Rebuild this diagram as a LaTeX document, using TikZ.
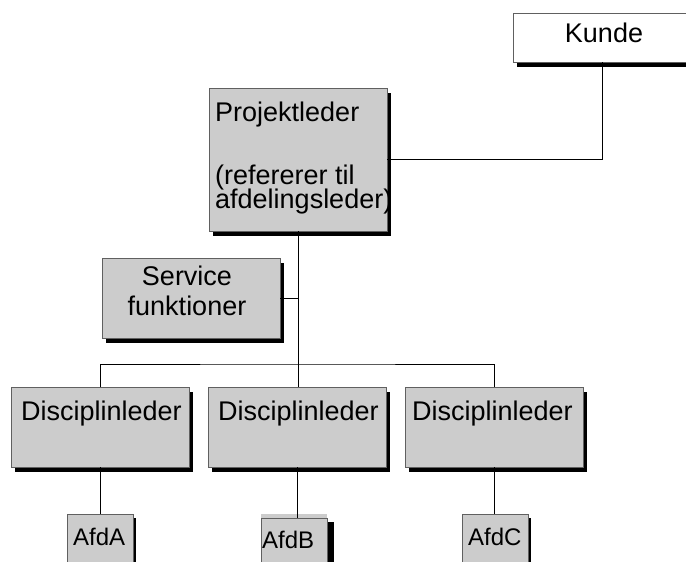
\documentclass[tikz,border=0pt]{standalone}
\usepackage{fontspec}
\setmainfont{Liberation Sans}
\usetikzlibrary{shadows}
\definecolor{boxfill}{HTML}{CCCCCC}
\definecolor{boxline}{HTML}{606060}
\begin{document}
\begin{tikzpicture}[x=1pt,y=-1pt,
  box/.style={draw=boxline, fill=boxfill, line width=0.8pt, anchor=north west,
    inner sep=0pt, outer sep=0pt,
    drop shadow={shadow xshift=4pt, shadow yshift=-5pt, fill=black, opacity=1}},
  wbox/.style={box, fill=white},
  afdbox/.style={draw=boxline, fill=boxfill, line width=0.8pt, anchor=north west,
    inner sep=0pt, outer sep=0pt, minimum width=66pt, minimum height=60pt},
  lbl/.style={inner sep=0pt, anchor=base west, font=\fontsize{27}{27}\selectfont},
  clbl/.style={lbl, anchor=base},
  slbl/.style={lbl, font=\fontsize{24}{24}\selectfont},
  conn/.style={draw=black, line width=0.8pt}]
\useasboundingbox (0,0) rectangle (686,562);

% boxes
\node[wbox, minimum width=178pt, minimum height=49pt] (kunde) at (513,13) {};
\node[box, minimum width=178pt, minimum height=143pt] (pl) at (209,88) {};
\node[box, minimum width=178pt, minimum height=80pt] (sv) at (102,258) {};
\node[box, minimum width=178pt, minimum height=80pt] (d1) at (11,387) {};
\node[box, minimum width=178pt, minimum height=80pt] (d2) at (208,387) {};
\node[box, minimum width=178pt, minimum height=80pt] (d3) at (405,387) {};
\fill[boxfill] (261,514) rectangle (327,518);
\node[afdbox, drop shadow={shadow xshift=3pt, shadow yshift=-4pt, fill=black, opacity=1}] (a1) at (67,514) {};
\node[afdbox, drop shadow={shadow xshift=7pt, shadow yshift=-4pt, fill=black, opacity=1}] (a2) at (261,518) {};
\node[afdbox, drop shadow={shadow xshift=3pt, shadow yshift=-4pt, fill=black, opacity=1}] (a3) at (462,514) {};

% texts
\node[clbl] (kundet) at (604,42) {Kunde};
\node[lbl] (plt1) at (215,121) {Projektleder};
\node[lbl, text depth=0pt] (plt2) at (215,184) {(refererer til};
\node[lbl, text height=17pt] (plt3) at (215,208) {afdelingsleder)};
\node[clbl] (svt1) at (187,285) {Service};
\node[clbl] (svt2) at (187,315) {funktioner};
\node[lbl] (d1t) at (21,420) {Disciplinleder};
\node[lbl] (d2t) at (218,420) {Disciplinleder};
\node[lbl] (d3t) at (412,420) {Disciplinleder};
\node[slbl] (a1t) at (73,545) {AfdA};
\node[slbl] (a2t) at (262,548) {AfdB};
\node[slbl] (a3t) at (468,545) {AfdC};

% connectors
\coordinate (bus) at (298,364);
\draw[conn] (kunde.south) |- (pl.east);
\draw[conn] (pl.south) -- (pl.south |- d2.north);
\draw[conn] (sv.east) -- (sv.east -| pl.south);
\draw[conn] (d1.north) |- (bus) -| (d3.north);
\draw[conn] (d1.south) -- (a1.north);
\draw[conn] (d2.south) -- (d2.south |- a2.north);
\draw[conn] (d3.south) -- (d3.south |- a3.north);
\end{tikzpicture}
\end{document}
